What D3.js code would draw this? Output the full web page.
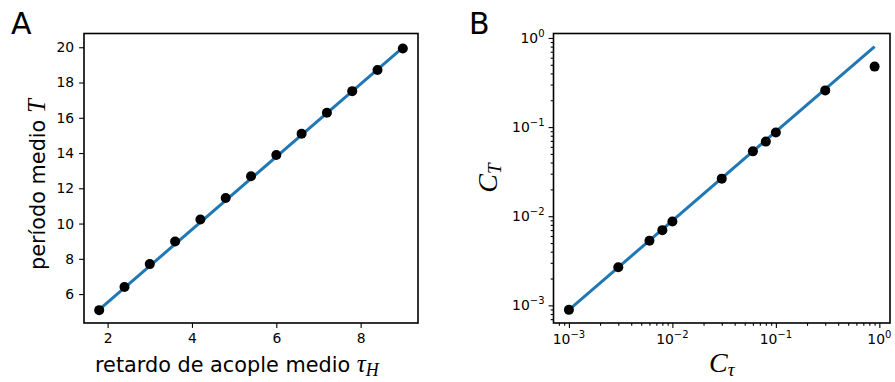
<!DOCTYPE html>
<html>
<head>
<meta charset="utf-8">
<script src="https://cdn.jsdelivr.net/npm/d3@7"></script>
<style>
  body { margin: 0; background: #fff; }
  text { font-family: "DejaVu Sans", sans-serif; fill: #000; }
  .math { font-family: "Liberation Serif", "DejaVu Serif", serif; font-style: italic; }
</style>
</head>
<body>
<div id="chart"></div>
<script>
// Panel A: mean period vs mean coupling delay
const tauH = [1.8, 2.4, 3.0, 3.6, 4.2, 4.8, 5.4, 6.0, 6.6, 7.2, 7.8, 8.4, 9.0];
const periodT = [5.09, 6.40, 7.70, 8.98, 10.23, 11.45, 12.68, 13.89, 15.09, 16.28, 17.51, 18.71, 19.93];
const fitAx = [1.8, 9.0];
const fitAy = [5.12, 19.98];
const ticksAx = [2, 4, 6, 8];
const ticksAy = [6, 8, 10, 12, 14, 16, 18, 20];

// Panel B: coefficient of variation, log-log
const cTau = [0.001, 0.003, 0.006, 0.008, 0.01, 0.03, 0.06, 0.08, 0.1, 0.3, 0.9];
const cT = [0.00089, 0.00267, 0.0053, 0.00698, 0.00873, 0.0264, 0.0534, 0.0687, 0.0871, 0.258, 0.477];
const fitBx = [0.001, 0.9];
const fitBy = [0.00089, 0.80];
const ticksBexp = [-3, -2, -1, 0];

const width = 895;
const height = 382;
const blue = "#1f77b4";
const majorLen = 4.9, minorLen = 2.8;

const svg = d3.select("#chart")
    .append("svg")
    .attr("width", width)
    .attr("height", height);

// ---------- Panel A ----------
const xA = d3.scaleLinear().domain([1.44, 9.36]).range([84, 418]);
const yA = d3.scaleLinear().domain([4.36, 20.78]).range([323, 33.5]);

const gA = svg.append("g");

gA.append("path")
    .datum(d3.zip(fitAx, fitAy))
    .attr("fill", "none")
    .attr("stroke", blue)
    .attr("stroke-width", 3)
    .attr("d", d3.line().x(d => xA(d[0])).y(d => yA(d[1])));

gA.selectAll(".dot")
    .data(d3.zip(tauH, periodT))
    .enter().append("circle")
    .attr("class", "dot")
    .attr("cx", d => xA(d[0]))
    .attr("cy", d => yA(d[1]))
    .attr("r", 5)
    .attr("fill", "#000");

gA.append("g")
    .attr("transform", "translate(0,323)")
    .call(d3.axisBottom(xA).tickValues(ticksAx).tickSize(majorLen).tickPadding(5).tickFormat(d3.format("d")));

gA.append("g")
    .attr("transform", "translate(84,0)")
    .call(d3.axisLeft(yA).tickValues(ticksAy).tickSize(majorLen).tickPadding(5).tickFormat(d3.format("d")));

gA.append("rect")
    .attr("x", 84).attr("y", 33.5)
    .attr("width", 418 - 84).attr("height", 323 - 33.5)
    .attr("fill", "none").attr("stroke", "#000").attr("stroke-width", 1.6);

// x label
const xlabA = gA.append("text")
    .attr("x", 95).attr("y", 372)
    .attr("text-anchor", "start")
    .style("font-size", "20.8px");
xlabA.append("tspan").text("retardo de acople medio ");
xlabA.append("tspan").attr("class", "math").style("font-size", "25px").text("τ");
xlabA.append("tspan").attr("class", "math").attr("dy", 4).style("font-size", "18px").text("H");

// y label
const ylabA = gA.append("text")
    .attr("transform", "translate(45,270) rotate(-90)")
    .attr("text-anchor", "start")
    .style("font-size", "20.8px");
ylabA.append("tspan").text("período medio ");
ylabA.append("tspan").attr("class", "math").style("font-size", "25px").text("T");

svg.append("text")
    .attr("x", 11).attr("y", 33.5)
    .style("font-size", "30px")
    .text("A");

// ---------- Panel B ----------
const xB = d3.scaleLog().domain([Math.pow(10, -3.149), Math.pow(10, 0.103)]).range([553.5, 890]);
const yB = d3.scaleLog().domain([Math.pow(10, -3.198), Math.pow(10, 0.05)]).range([323, 33.5]);

const gB = svg.append("g");

gB.append("path")
    .datum(d3.zip(fitBx, fitBy))
    .attr("fill", "none")
    .attr("stroke", blue)
    .attr("stroke-width", 3)
    .attr("d", d3.line().x(d => xB(d[0])).y(d => yB(d[1])));

gB.selectAll(".dot")
    .data(d3.zip(cTau, cT))
    .enter().append("circle")
    .attr("class", "dot")
    .attr("cx", d => xB(d[0]))
    .attr("cy", d => yB(d[1]))
    .attr("r", 5)
    .attr("fill", "#000");

// minor ticks: 2..9 in each decade, kept inside the domain
function minorTicks(scale) {
  const [a, b] = scale.domain();
  const out = [];
  for (let e = -4; e <= 1; e++) {
    for (let m = 2; m <= 9; m++) {
      const v = m * Math.pow(10, e);
      if (v >= a && v <= b) out.push(v);
    }
  }
  return out;
}

gB.append("g").attr("transform", "translate(0,323)")
    .call(d3.axisBottom(xB).tickValues(minorTicks(xB)).tickSize(minorLen).tickFormat(""));
gB.append("g").attr("transform", "translate(0,323)")
    .call(d3.axisBottom(xB).tickValues(ticksBexp.map(e => Math.pow(10, e))).tickSize(majorLen).tickFormat(""));

gB.append("g").attr("transform", "translate(553.5,0)")
    .call(d3.axisLeft(yB).tickValues(minorTicks(yB)).tickSize(minorLen).tickFormat(""));
gB.append("g").attr("transform", "translate(553.5,0)")
    .call(d3.axisLeft(yB).tickValues(ticksBexp.map(e => Math.pow(10, e))).tickSize(majorLen).tickFormat(""));

// 10^e tick labels
function powLabel(sel, e) {
  sel.append("tspan").text("10");
  sel.append("tspan").attr("dy", -6).style("font-size", "10px").text(e < 0 ? "\u2212" + (-e) : String(e));
}

ticksBexp.forEach(e => {
  const t = gB.append("text")
      .attr("x", xB(Math.pow(10, e)))
      .attr("y", 344)
      .attr("text-anchor", "middle")
      .style("font-size", "13.9px");
  powLabel(t, e);

  const u = gB.append("text")
      .attr("x", 544.5)
      .attr("y", yB(Math.pow(10, e)) + 5)
      .attr("text-anchor", "end")
      .style("font-size", "13.9px");
  powLabel(u, e);
});

gB.append("rect")
    .attr("x", 553.5).attr("y", 33.5)
    .attr("width", 890 - 553.5).attr("height", 323 - 33.5)
    .attr("fill", "none").attr("stroke", "#000").attr("stroke-width", 1.6);

const xlabB = gB.append("text")
    .attr("x", 721.7).attr("y", 372)
    .attr("text-anchor", "middle");
xlabB.append("tspan").attr("class", "math").style("font-size", "28px").text("C");
xlabB.append("tspan").attr("class", "math").attr("dy", 4).style("font-size", "19px").text("τ");

const ylabB = gB.append("text")
    .attr("transform", "translate(497,178) rotate(-90)")
    .attr("text-anchor", "middle");
ylabB.append("tspan").attr("class", "math").style("font-size", "28px").text("C");
ylabB.append("tspan").attr("class", "math").attr("dy", 4).style("font-size", "19px").text("T");

svg.append("text")
    .attr("x", 469).attr("y", 33.5)
    .style("font-size", "30px")
    .text("B");

// axis text styling to match the reference
svg.selectAll(".tick text").style("font-size", "13.9px").style("font-family", "DejaVu Sans, sans-serif");
svg.selectAll(".tick line").attr("stroke-width", 1.1);
svg.selectAll(".domain").remove();
</script>
</body>
</html>
